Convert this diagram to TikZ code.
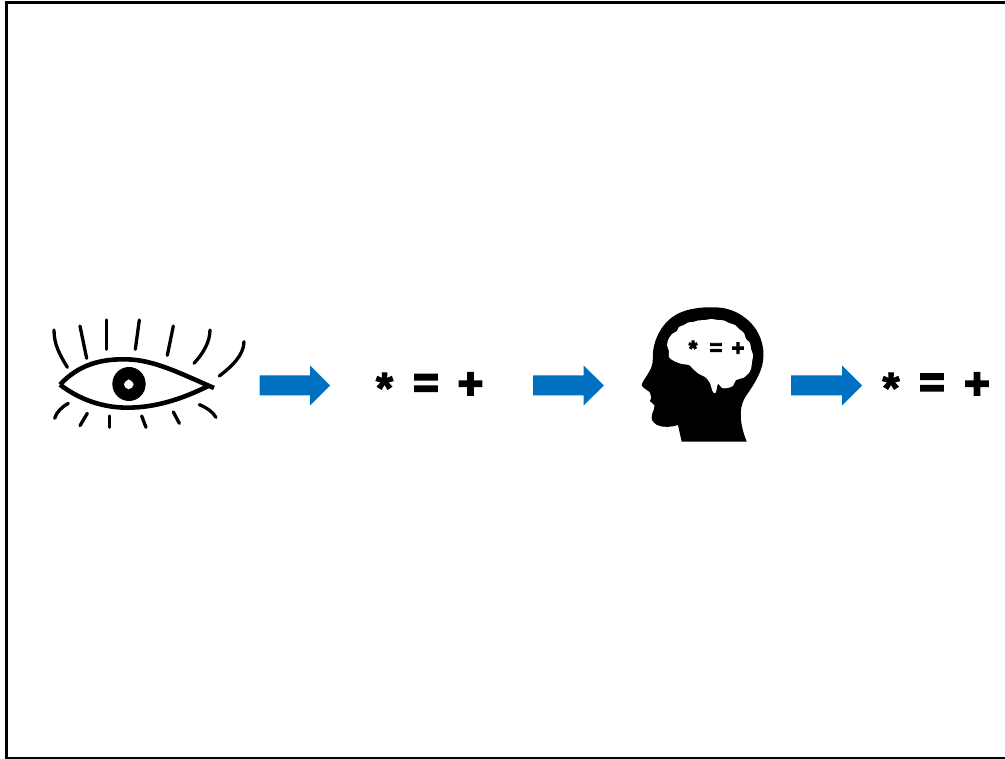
\documentclass[tikz,border=0pt]{standalone}
\usepackage{fontspec}
\setmainfont{Liberation Sans}[BoldFeatures={FakeBold=5}]
\newfontfamily\smallsym{Liberation Sans}[BoldFeatures={FakeBold=4}]
\newfontfamily\astsym{Liberation Sans}[BoldFeatures={FakeBold=2.5}]
\usetikzlibrary{calc}
\tikzset{
  sym/.style={inner sep=0pt,outer sep=0pt,font=\fontsize{#1}{#1}\selectfont\bfseries,text=black},
  sym/.default=36,
  smallsymb/.style={inner sep=0pt,outer sep=0pt,font=\fontsize{#1}{#1}\smallsym\bfseries,text=black},
  astsymb/.style={inner sep=0pt,outer sep=0pt,font=\fontsize{#1}{#1}\astsym\bfseries,text=black},
  bluearrow/.style={fill=arrowblue,draw=none},
  lash/.style={draw=black,line width=3.3pt,line cap=round,line join=round},
  lid/.style={draw=black,line width=4.6pt,line join=miter},
}
\definecolor{arrowblue}{HTML}{0070C0}
\begin{document}
\begin{tikzpicture}[x=1pt,y=-1pt]
\useasboundingbox (0,0) rectangle (1005,759);
\fill[white] (0,0) rectangle (1005,759);
% frame
\draw[black,line width=3pt] (1010,3) -- (6,3) -- (6,758.4) -- (1010,758.4);
% arrows
\fill[bluearrow] (259.5,375.5) -- (310,375.5) -- (310,365.5) -- (330,385.5) -- (310,405.5) -- (310,395.5) -- (259.5,395.5) -- cycle;
\fill[bluearrow] (533,375.5) -- (583.5,375.5) -- (583.5,365.5) -- (604,385.5) -- (583.5,405.5) -- (583.5,395.5) -- (533,395.5) -- cycle;
\fill[bluearrow] (791,375.5) -- (842,375.5) -- (842,365.5) -- (862,385.5) -- (842,405.5) -- (842,395.5) -- (791,395.5) -- cycle;
% eye, in zoomed coordinates
\begin{scope}[shift={(40,310)},x=0.3333pt,y=-0.3333pt]
  \draw[lid] (60,224) .. controls (115,165) and (180,147) .. (255,148)
     .. controls (340,148) and (420,190) .. (522,234);
  \draw[lid] (60,224) .. controls (120,270) and (190,293) .. (262,293)
     .. controls (350,293) and (430,265) .. (505,228);
  \fill[black] (267,222) ellipse [x radius=50,y radius=51];
  \fill[white] (266,208) .. controls (274,212) and (281,218) .. (281,223)
     .. controls (281,230) and (274,236) .. (266,238)
     .. controls (258,236) and (252,230) .. (252,223)
     .. controls (252,218) and (258,212) .. (266,208) -- cycle;
  \draw[lash] (42,60) .. controls (42,105) and (60,135) .. (82,172);
  \draw[lash] (120,48) -- (140,145);
  \draw[lash] (200,30) -- (200,118);
  \draw[lash] (298,30) -- (286,118);
  \draw[lash] (400,48) -- (382,136);
  \draw[lash] (510,60) .. controls (510,95) and (490,130) .. (462,160);
  \draw[lash] (612,95) .. controls (612,135) and (575,170) .. (538,198);
  \draw[lash] (85,280) .. controls (65,292) and (50,305) .. (44,325);
  \draw[lash] (142,310) -- (120,347);
  \draw[lash] (208,318) -- (208,352);
  \draw[lash] (305,318) -- (318,352);
  \draw[lash] (400,306) -- (418,340);
  \draw[lash] (478,284) .. controls (500,293) and (518,305) .. (528,322);
\end{scope}
% head
\fill[black] (681.7,441.7) -- (678,425) .. controls (672,427) and (663,428) .. (657,425)
  .. controls (652,422) and (651,419) .. (652,414.5)
  .. controls (653.5,410) and (655,407.5) .. (654.5,405.5)
  .. controls (654,403.5) and (650.5,402.5) .. (649.8,401)
  .. controls (649.8,400) and (651.5,399.5) .. (651.3,397.5)
  .. controls (651,395.5) and (650,394) .. (650,392.5)
  .. controls (648,390) and (642,388) .. (641.7,385)
  .. controls (642,382) and (647,376) .. (649,372)
  .. controls (653,366) and (653,360) .. (653,352)
  .. controls (655,335) and (665,318) .. (683,311.5)
  .. controls (695,307) and (712,306.5) .. (723,308)
  .. controls (745,312) and (763.5,330) .. (763.5,355)
  .. controls (763.5,370) and (755,383) .. (746,396)
  .. controls (740,405) and (740,415) .. (741.7,425)
  .. controls (743,432) and (745,437) .. (746.7,441.7) -- cycle;
% brain
\fill[white] plot[smooth cycle,tension=0.6] coordinates {
 (667,345) (669,338) (672,334) (677,331) (679,327) (684,325) (688,322.5) (693,322) (698,320.5)
 (705,320) (711,319) (718,320) (724,320.5) (729,323) (735,325) (739,329) (744,333) (746,339)
 (750,343) (751,349) (753,355) (752,362) (751,369) (748,374) (743,378) (736,380)
 (733,386) (727,388) (722,388) (718,384) (716,392) (714,393) (712,390) (710,383) (705,377)
 (699,374) (693,369) (689,365) (682,364) (674,361) (669,357) (669,351) };
% symbols
\node[astsymb=44] (a1) at (384.5,388) {*};
\node[sym=43] (e1) at (426,386) {=};
\node[sym=43] (p1) at (470.5,385.5) {+};
\node[astsymb=44] (a2) at (891,388) {*};
\node[sym=43] (e2) at (932,385.5) {=};
\node[sym=43] (p2) at (977,385.5) {+};
\node[smallsymb=22] (a3) at (693,348.5) {*};
\node[smallsymb=22] (e3) at (716,349) {=};
\node[smallsymb=22] (p3) at (738,349) {+};
\end{tikzpicture}
\end{document}
